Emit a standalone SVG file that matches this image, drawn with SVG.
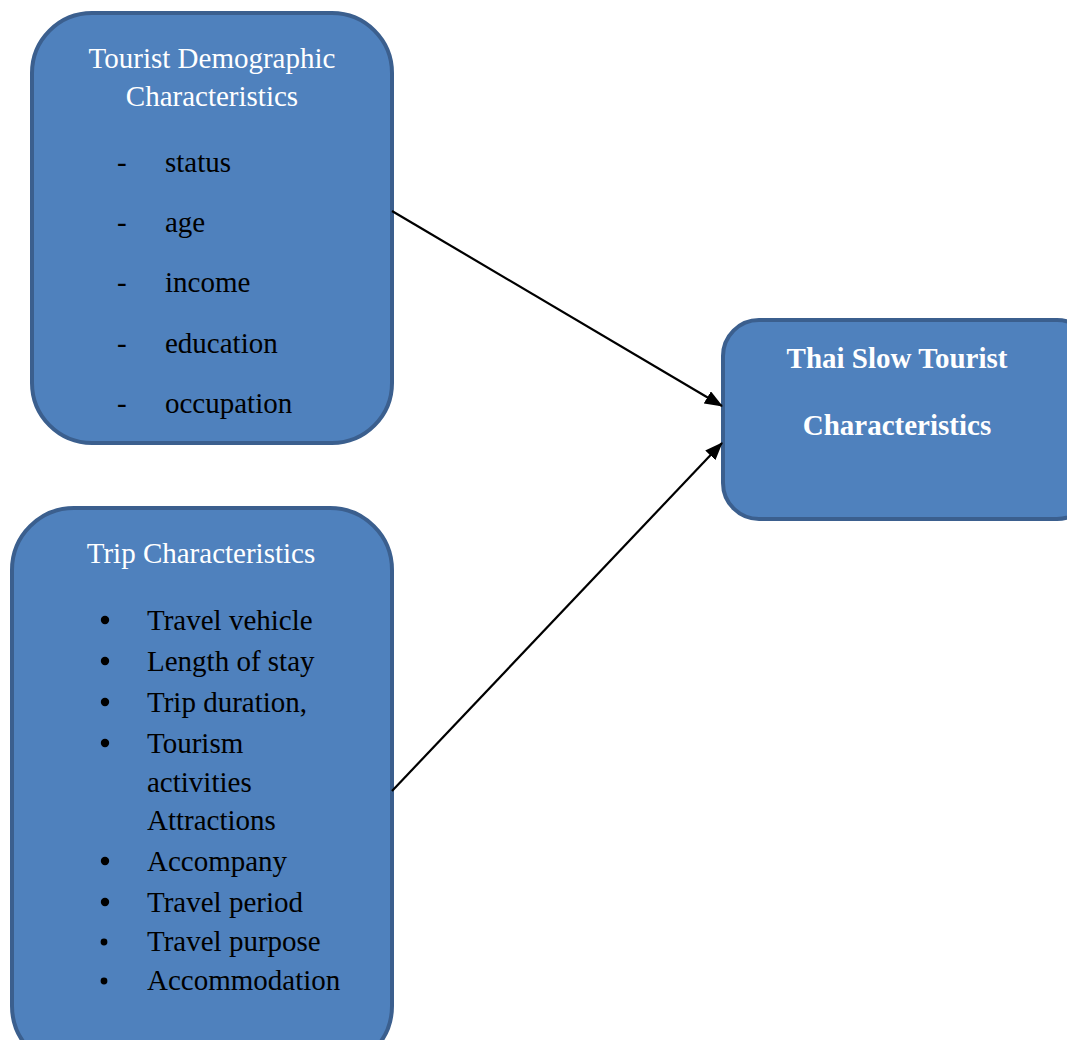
<svg xmlns="http://www.w3.org/2000/svg" width="1067" height="1040" viewBox="0 0 1067 1040">
<defs>
<style>
.box{fill:#4f81bd;stroke:#3b5f8e;stroke-width:4}
.t{font-family:"Liberation Serif","Times New Roman",serif;font-size:29px}
.w{fill:#ffffff}
.k{fill:#000000}
.b{font-weight:bold}
.c{stroke:#000;stroke-width:2.2;fill:none}
</style>
<marker id="ah" markerWidth="18" markerHeight="14" refX="17" refY="7" orient="auto" markerUnits="userSpaceOnUse" viewBox="0 0 18 14">
<path d="M0,0 L18,7 L0,14 z" fill="#000"/>
</marker>
</defs>
<rect width="1067" height="1040" fill="#ffffff"/>
<g id="node-demographic">
<rect class="box" x="32" y="13" width="360" height="430" rx="60" ry="60"/>
<text class="t w" x="212" y="68" text-anchor="middle">Tourist Demographic</text>
<text class="t w" x="212" y="106" text-anchor="middle">Characteristics</text>
<g class="t k">
<text x="117" y="172">-</text><text x="165" y="172">status</text>
<text x="117" y="232">-</text><text x="165" y="232">age</text>
<text x="117" y="292">-</text><text x="165" y="292">income</text>
<text x="117" y="353">-</text><text x="165" y="353">education</text>
<text x="117" y="413">-</text><text x="165" y="413">occupation</text>
</g>
</g>
<g id="node-trip">
<rect class="box" x="12" y="508" width="380" height="560" rx="62" ry="62"/>
<text class="t w" x="201" y="563" text-anchor="middle">Trip Characteristics</text>
<g class="k">
<circle cx="105" cy="620" r="4.2"/>
<circle cx="105" cy="661" r="4.2"/>
<circle cx="105" cy="702" r="4.2"/>
<circle cx="105" cy="743" r="4.2"/>
<circle cx="105" cy="861" r="4.2"/>
<circle cx="105" cy="902" r="4.2"/>
<circle cx="104" cy="942" r="3.4"/>
<circle cx="104" cy="981" r="3.4"/>
</g>
<g class="t k">
<text x="147" y="630">Travel vehicle</text>
<text x="147" y="671">Length of stay</text>
<text x="147" y="712">Trip duration,</text>
<text x="147" y="753">Tourism</text>
<text x="147" y="792">activities</text>
<text x="147" y="830">Attractions</text>
<text x="147" y="871">Accompany</text>
<text x="147" y="912">Travel period</text>
<text x="147" y="951">Travel purpose</text>
<text x="147" y="990">Accommodation</text>
</g>
</g>
<g id="node-thai">
<rect class="box" x="723" y="320" width="370" height="199" rx="36" ry="36"/>
<text class="t w b" x="897" y="368" text-anchor="middle">Thai Slow Tourist</text>
<text class="t w b" x="897" y="435" text-anchor="middle">Characteristics</text>
</g>
<g id="connectors">
<line class="c" x1="392" y1="211" x2="722" y2="406" marker-end="url(#ah)"/>
<line class="c" x1="392" y1="791" x2="722" y2="443" marker-end="url(#ah)"/>
</g>
</svg>
